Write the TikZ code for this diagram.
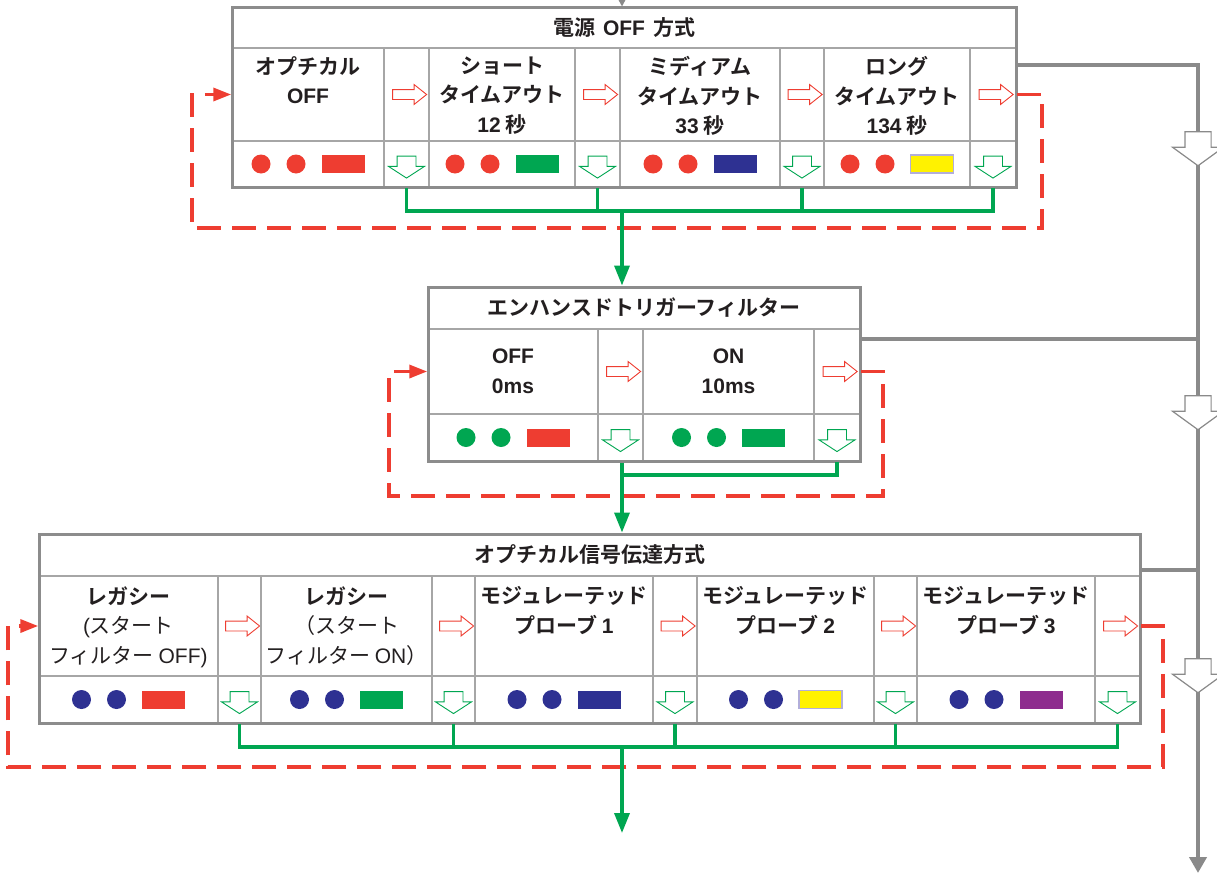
\documentclass[tikz,border=0pt]{standalone}
\usepackage{fontspec}
\setmainfont{Noto Sans CJK JP}[BoldFont={* Bold}]
\newfontfamily\latinfont{Liberation Sans}
\usepackage{tikz}
\usetikzlibrary{arrows.meta}
\usetikzlibrary{shapes.arrows}
\definecolor{lampred}{HTML}{EE3D31}
\definecolor{lampgreen}{HTML}{00A651}
\definecolor{lampblue}{HTML}{2E3192}
\definecolor{lampyellow}{HTML}{FFF200}
\definecolor{lamppurple}{HTML}{8E2C8E}
\definecolor{lilac}{HTML}{B2AEDA}
\definecolor{framegray}{HTML}{8C8C8C}
\definecolor{cellgray}{HTML}{A6A6A6}
\definecolor{busgray}{HTML}{8A8A8A}
\definecolor{ink}{HTML}{231F20}
\newcommand{\latn}[1]{{\latinfont #1}}
\newcommand{\cellat}[5]{\node[cell, minimum width={(#4-#2)*1pt}, minimum height={(#5-#3)*1pt}] (#1) at ({(#2+#4)/2},{(#3+#5)/2}) {};}
\newcommand{\stage}[7]{%
    \cellat{#1}{#2}{#5}{#3}{#6}
    \cellat{#1r}{#3}{#5}{#4}{#6}
    \cellat{#1i}{#2}{#6}{#3}{#7}
    \cellat{#1d}{#3}{#6}{#4}{#7}
    \node[nextarrow] (#1ra) at (#1r) {};
    \node[downarrow] (#1da) at (#1d) {};
}
\newcommand{\lamps}[4]{%
    \node[dot, fill=#2] (#1a) at ([xshift=-47pt]#1.center) {};
    \node[dot, fill=#2] (#1b) at ([xshift=-12pt]#1.center) {};
    \node[bar, fill=#3, draw=#4] (#1c) at ([xshift=35pt]#1.center) {};
}

\begin{document}
\begin{tikzpicture}[x=1pt, y=-1pt,
    cell/.style={rectangle, draw=cellgray, line width=1.5pt, inner sep=0},
    frame/.style={rectangle, draw=framegray, line width=3pt, inner sep=0},
    nextarrow/.style={single arrow, draw=lampred, fill=white, line width=0.9pt, inner xsep=0pt, inner ysep=4.5pt, single arrow head extend=5pt, single arrow tip angle=77, minimum height=34pt},
    downarrow/.style={single arrow, rotate=-90, draw=lampgreen, fill=white, line width=0.9pt, inner xsep=0pt, inner ysep=9pt, single arrow head extend=8.5pt, single arrow tip angle=114, minimum height=22pt},
    busarrow/.style={single arrow, rotate=-90, draw=busgray, fill=white, line width=1.2pt, inner xsep=0pt, inner ysep=12.5pt, single arrow head extend=12.5pt, single arrow tip angle=108, minimum height=34pt},
    dot/.style={circle, minimum size=19pt, inner sep=0},
    bar/.style={rectangle, minimum width=43pt, minimum height=18pt, inner sep=0, line width=1.5pt},
    headtext/.style={font=\bfseries\fontsize{21}{25}\selectfont, text=ink, inner sep=0},
    celltext/.style={font=\bfseries\fontsize{21}{29.5}\selectfont, text=ink, align=center, inner sep=0},
    greenline/.style={draw=lampgreen, line width=3.5pt},
    loopline/.style={draw=lampred, line width=3.5pt, dash pattern=on 24pt off 11pt},
    busline/.style={draw=busgray, line width=4pt},
]
    \useasboundingbox (0,0) rectangle (1217,875);
    \clip (0,0) rectangle (1217,875);

    % power off mode
    \cellat{T_h}{232}{8}{1016}{48}
    \stage{T_1}{232}{384}{429}{48}{141}{187}
    \stage{T_2}{429}{575}{620}{48}{141}{187}
    \stage{T_3}{620}{780}{824}{48}{141}{187}
    \stage{T_4}{824}{970}{1016}{48}{141}{187}
    \node[frame, minimum width=784pt, minimum height=179pt] (T) at (624,97.5) {};
    \node[headtext] (T_ht) at (T_h) {電源\hspace{8pt}\latn{OFF}\hspace{8pt}方式};
    \node[celltext, anchor=north] (T_1t) at ([yshift=-9pt]T_1.north) {オプチカル\\\latn{OFF}};
    \node[celltext, anchor=north] (T_2t) at ([yshift=-9pt]T_2.north) {ショート\\タイムアウト\\\latn{12} 秒};
    \node[celltext, anchor=north] (T_3t) at ([yshift=-9pt]T_3.north) {ミディアム\\タイムアウト\\\latn{33} 秒};
    \node[celltext, anchor=north] (T_4t) at ([yshift=-9pt]T_4.north) {ロング\\タイムアウト\\\latn{134} 秒};
    \lamps{T_1i}{lampred}{lampred}{none}
    \lamps{T_2i}{lampred}{lampgreen}{none}
    \lamps{T_3i}{lampred}{lampblue}{none}
    \lamps{T_4i}{lampred}{lampyellow}{lilac}

    % enhanced trigger filter
    \cellat{M_h}{428}{287}{860}{329}
    \stage{M_1}{428}{598}{643}{329}{414}{461}
    \stage{M_2}{643}{814}{860}{329}{414}{461}
    \node[frame, minimum width=432pt, minimum height=174pt] (M) at (644,374) {};
    \node[headtext] (M_ht) at (M_h) {エンハンスドトリガーフィルター};
    \node[celltext] (M_1t) at (M_1) {\latn{OFF}\\\latn{0ms}};
    \node[celltext] (M_2t) at (M_2) {\latn{ON}\\\latn{10ms}};
    \lamps{M_1i}{lampgreen}{lampred}{none}
    \lamps{M_2i}{lampgreen}{lampgreen}{none}

    % optical signal mode
    \cellat{B_h}{39}{534}{1140}{576}
    \stage{B_1}{39}{218}{261}{576}{676}{723}
    \stage{B_2}{261}{432}{475}{576}{676}{723}
    \stage{B_3}{475}{653}{697}{576}{676}{723}
    \stage{B_4}{697}{874}{917}{576}{676}{723}
    \stage{B_5}{917}{1095}{1140}{576}{676}{723}
    \node[frame, minimum width=1101pt, minimum height=189pt] (B) at (589.5,628.5) {};
    \node[headtext] (B_ht) at (B_h) {オプチカル信号伝達方式};
    \node[celltext, anchor=north] (B_1t) at ([yshift=-11pt]B_1.north) {レガシー\\{\mdseries \latn{(}スタート}\\{\mdseries フィルター \latn{OFF)}}};
    \node[celltext, anchor=north] (B_2t) at ([yshift=-11pt]B_2.north) {レガシー\\{\mdseries （スタート}\\{\mdseries フィルター \latn{ON}）}};
    \node[celltext, anchor=north] (B_3t) at ([yshift=-11pt]B_3.north) {モジュレーテッド\\プローブ \latn{1}};
    \node[celltext, anchor=north] (B_4t) at ([yshift=-11pt]B_4.north) {モジュレーテッド\\プローブ \latn{2}};
    \node[celltext, anchor=north] (B_5t) at ([yshift=-11pt]B_5.north) {モジュレーテッド\\プローブ \latn{3}};
    \lamps{B_1i}{lampblue}{lampred}{none}
    \lamps{B_2i}{lampblue}{lampgreen}{none}
    \lamps{B_3i}{lampblue}{lampblue}{none}
    \lamps{B_4i}{lampblue}{lampyellow}{lilac}
    \lamps{B_5i}{lampblue}{lamppurple}{none}

    % loops back to the first setting
    \coordinate (T_se) at (1042,228);
    \coordinate (T_sw) at (192,228);
    \coordinate (M_se) at (883,496);
    \coordinate (M_sw) at (389,496);
    \coordinate (B_se) at (1163,767);
    \coordinate (B_sw) at (8,767);
    \draw[loopline, -{Triangle[length=18pt, width=13pt]}] (T_4r.east) -| (T_se) -- (T_sw) |- (T_1.west);
    \draw[loopline, -{Triangle[length=18pt, width=13pt]}] (M_2r.east) -| (M_se) -- (M_sw) |- (M_1.west);
    \draw[loopline, -{Triangle[length=18pt, width=13pt]}] (B_5r.east) -| (B_se) -- (B_sw) |- (B_1.west);

    % selected setting goes on
    \coordinate (T_bus) at (622,211);
    \coordinate (M_bus) at (622,475);
    \coordinate (B_bus) at (622,747);
    \coordinate (B_out) at (622,833);
    \draw[greenline] (T_1d.south) |- (T_4d.south |- T_bus) -- (T_4d.south);
    \draw[greenline] (T_2d.south) -- (T_2d.south |- T_bus);
    \draw[greenline] (T_3d.south) -- (T_3d.south |- T_bus);
    \draw[greenline, -{Triangle[length=20pt, width=15pt]}] (T_bus) -- (T_bus |- M.north);
    \draw[greenline] (M_2d.south) |- (M_bus);
    \draw[greenline, -{Triangle[length=20pt, width=15pt]}] (M_bus |- M.south) -- (M_bus |- B.north);
    \draw[greenline] (B_1d.south) |- (B_5d.south |- B_bus) -- (B_5d.south);
    \draw[greenline] (B_2d.south) -- (B_2d.south |- B_bus);
    \draw[greenline] (B_3d.south) -- (B_3d.south |- B_bus);
    \draw[greenline] (B_4d.south) -- (B_4d.south |- B_bus);
    \draw[greenline, -{Triangle[length=20pt, width=15pt]}] (B_bus) -- (B_out);

    % skip path
    \coordinate (T_in) at (622,-6);
    \coordinate (G_1) at (1198,65);
    \coordinate (G_2) at (1198,339);
    \coordinate (G_3) at (1198,570);
    \coordinate (G_end) at (1198,873);
    \draw[busgray, line width=1.5pt, -{Triangle[length=7pt, width=7pt]}] (T_in) -- (T_in |- T.north);
    \draw[busline, -{Triangle[length=16pt, width=17pt]}] (T.east |- G_1) -- (G_1) -- (G_end);
    \draw[busline] (M.east |- G_2) -- (G_2);
    \draw[busline] (B.east |- G_3) -- (G_3);
    \node[busarrow] (G_a1) at (1198,144) {};
    \node[busarrow] (G_a2) at (1198,408) {};
    \node[busarrow] (G_a3) at (1198,671) {};
\end{tikzpicture}
\end{document}
